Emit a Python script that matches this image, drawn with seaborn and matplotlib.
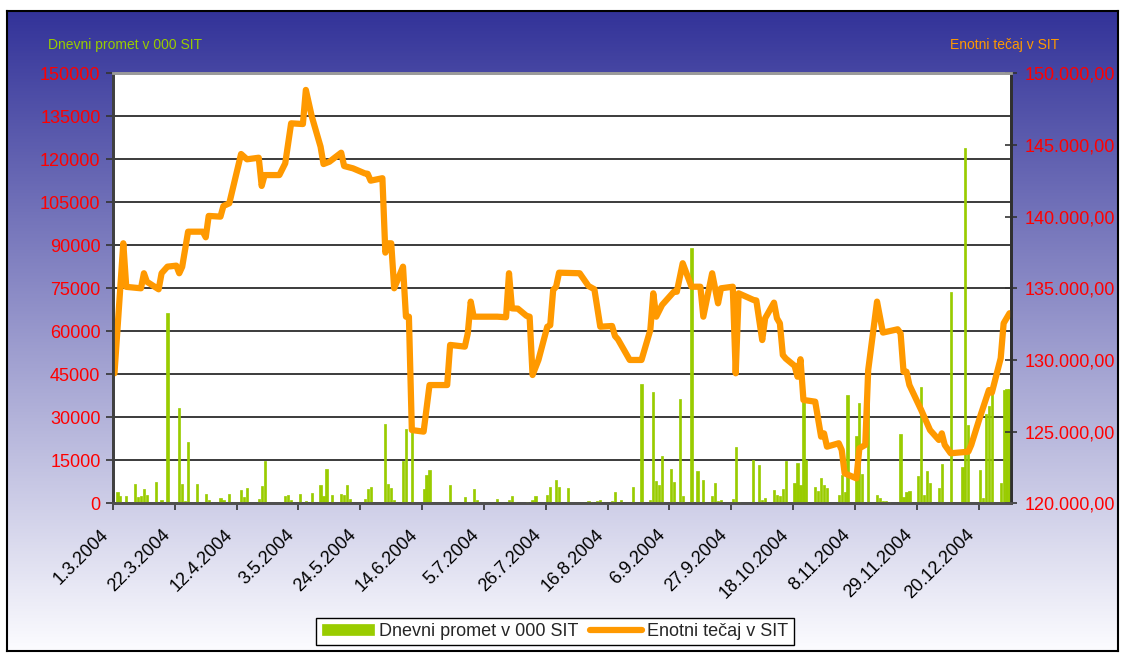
import matplotlib
matplotlib.use("Agg")
import matplotlib.pyplot as plt
import matplotlib.ticker as mticker
import matplotlib.transforms as mtransforms
import numpy as np
import pandas as pd
import seaborn as sns

# daily turnover (000 SIT)
bar_dates = [
    "2004-03-02", "2004-03-03", "2004-03-05", "2004-03-08", "2004-03-09", "2004-03-10",
    "2004-03-11", "2004-03-12", "2004-03-15", "2004-03-17", "2004-03-19", "2004-03-23",
    "2004-03-24", "2004-03-25", "2004-03-26", "2004-03-29", "2004-04-01", "2004-04-02",
    "2004-04-06", "2004-04-07", "2004-04-09", "2004-04-13", "2004-04-14", "2004-04-15",
    "2004-04-19", "2004-04-20", "2004-04-21", "2004-04-28", "2004-04-29", "2004-04-30",
    "2004-05-03", "2004-05-05", "2004-05-07", "2004-05-10", "2004-05-11", "2004-05-12",
    "2004-05-14", "2004-05-17", "2004-05-18", "2004-05-19", "2004-05-20", "2004-05-25",
    "2004-05-26", "2004-05-27", "2004-06-01", "2004-06-02", "2004-06-03", "2004-06-04",
    "2004-06-07", "2004-06-08", "2004-06-10", "2004-06-14", "2004-06-15", "2004-06-16",
    "2004-06-23", "2004-06-28", "2004-06-29", "2004-06-30", "2004-07-01", "2004-07-02",
    "2004-07-09", "2004-07-13", "2004-07-14", "2004-07-15", "2004-07-19", "2004-07-21",
    "2004-07-22", "2004-07-26", "2004-07-27", "2004-07-29", "2004-07-30", "2004-08-02",
    "2004-08-03", "2004-08-09", "2004-08-10", "2004-08-12", "2004-08-13", "2004-08-17",
    "2004-08-18", "2004-08-20", "2004-08-24", "2004-08-27", "2004-08-30", "2004-08-31",
    "2004-09-01", "2004-09-02", "2004-09-03", "2004-09-06", "2004-09-07", "2004-09-09",
    "2004-09-10", "2004-09-13", "2004-09-15", "2004-09-17", "2004-09-20", "2004-09-21",
    "2004-09-22", "2004-09-23", "2004-09-27", "2004-09-28", "2004-09-29", "2004-10-04",
    "2004-10-06", "2004-10-07", "2004-10-08", "2004-10-11", "2004-10-12", "2004-10-13",
    "2004-10-14", "2004-10-15", "2004-10-18", "2004-10-19", "2004-10-20", "2004-10-21",
    "2004-10-22", "2004-10-25", "2004-10-26", "2004-10-27", "2004-10-28", "2004-10-29",
    "2004-11-02", "2004-11-03", "2004-11-04", "2004-11-05", "2004-11-08", "2004-11-09",
    "2004-11-10", "2004-11-12", "2004-11-15", "2004-11-16", "2004-11-17", "2004-11-18",
    "2004-11-19", "2004-11-23", "2004-11-24", "2004-11-25", "2004-11-26", "2004-11-29",
    "2004-11-30", "2004-12-01", "2004-12-02", "2004-12-03", "2004-12-06", "2004-12-07",
    "2004-12-10", "2004-12-14", "2004-12-15", "2004-12-16", "2004-12-20", "2004-12-21",
    "2004-12-22", "2004-12-23", "2004-12-24", "2004-12-27", "2004-12-28", "2004-12-29",
    "2004-12-30",
]
bar_values = [
    3950, 2560, 2560, 6750, 2210, 2560,
    5000, 2900, 7440, 1160, 66270, 33260,
    6750, 810, 21400, 6750, 3260, 1160,
    1860, 1160, 3260, 4650, 2210, 5350,
    1510, 6050, 14770, 2560, 2900, 1160,
    3260, 810, 3600, 6400, 2560, 11980,
    2900, 3260, 2900, 6400, 1510, 1510,
    5000, 5700, 27680, 6750, 5350, 1160,
    14770, 25930, 25500, 5000, 9890, 11630,
    6400, 2210, 470, 470, 5000, 1160,
    1510, 1160, 2560, 470, 470, 1160,
    2560, 2900, 5700, 8140, 5700, 5350,
    230, 810, 470, 810, 1160, 810,
    3950, 1160, 5700, 41610, 1160, 38930,
    7790, 6400, 16510, 11980, 7440, 36400,
    2560, 88940, 11280, 8140, 2560, 7090,
    810, 1160, 1510, 19650, 470, 15120,
    13370, 1160, 1860, 4650, 2900, 2560,
    5000, 14770, 7090, 14070, 6400, 36030,
    15120, 5700, 4300, 8840, 6400, 5350,
    2900, 9890, 3950, 37770, 23490, 35000,
    10230, 36000, 2900, 1860, 810, 810,
    470, 24190, 2210, 3950, 4300, 9540,
    40460, 2900, 11280, 7090, 5350, 13720,
    73810, 12680, 124030, 27330, 11630, 1860,
    31000, 34000, 38370, 7090, 39520, 39870,
    39870,
]

# unit price (SIT)
line_dates = [
    "2004-03-01", "2004-03-04", "2004-03-05", "2004-03-10", "2004-03-11", "2004-03-12",
    "2004-03-16", "2004-03-17", "2004-03-19", "2004-03-22", "2004-03-23", "2004-03-24",
    "2004-03-26", "2004-03-31", "2004-04-01", "2004-04-02", "2004-04-06", "2004-04-07",
    "2004-04-09", "2004-04-13", "2004-04-15", "2004-04-19", "2004-04-20", "2004-04-21",
    "2004-04-26", "2004-04-28", "2004-04-30", "2004-05-04", "2004-05-05", "2004-05-07",
    "2004-05-10", "2004-05-11", "2004-05-13", "2004-05-17", "2004-05-18", "2004-05-21",
    "2004-05-25", "2004-05-26", "2004-05-27", "2004-05-31", "2004-06-01", "2004-06-02",
    "2004-06-03", "2004-06-04", "2004-06-07", "2004-06-08", "2004-06-09", "2004-06-10",
    "2004-06-14", "2004-06-16", "2004-06-22", "2004-06-23", "2004-06-28", "2004-06-29",
    "2004-06-30", "2004-07-01", "2004-07-09", "2004-07-12", "2004-07-13", "2004-07-14",
    "2004-07-16", "2004-07-19", "2004-07-20", "2004-07-21", "2004-07-23", "2004-07-26",
    "2004-07-27", "2004-07-28", "2004-07-29", "2004-07-30", "2004-08-06", "2004-08-09",
    "2004-08-11", "2004-08-13", "2004-08-17", "2004-08-18", "2004-08-19", "2004-08-23",
    "2004-08-27", "2004-08-30", "2004-08-31", "2004-09-01", "2004-09-03", "2004-09-07",
    "2004-09-08", "2004-09-10", "2004-09-13", "2004-09-16", "2004-09-17", "2004-09-20",
    "2004-09-22", "2004-09-23", "2004-09-27", "2004-09-28", "2004-09-29", "2004-10-04",
    "2004-10-05", "2004-10-07", "2004-10-08", "2004-10-11", "2004-10-12", "2004-10-13",
    "2004-10-14", "2004-10-15", "2004-10-18", "2004-10-19", "2004-10-20", "2004-10-21",
    "2004-10-25", "2004-10-27", "2004-10-28", "2004-10-29", "2004-11-02", "2004-11-03",
    "2004-11-04", "2004-11-08", "2004-11-09", "2004-11-11", "2004-11-12", "2004-11-15",
    "2004-11-17", "2004-11-22", "2004-11-23", "2004-11-24", "2004-11-25", "2004-11-26",
    "2004-11-30", "2004-12-03", "2004-12-06", "2004-12-07", "2004-12-08", "2004-12-10",
    "2004-12-16", "2004-12-17", "2004-12-20", "2004-12-23", "2004-12-24", "2004-12-27",
    "2004-12-28", "2004-12-30",
]
line_values = [
    129070, 138140, 135100, 135000, 136050, 135460,
    134930, 136050, 136510, 136580, 136050, 136500,
    138950, 138950, 138560, 140050, 140000, 140740,
    140930, 144370, 144000, 144110, 142140, 142900,
    142900, 143720, 146510, 146460, 148840, 147000,
    144880, 143670, 143830, 144460, 143530, 143370,
    143020, 142990, 142510, 142680, 137490, 138140,
    138140, 135000, 136510, 133020, 133020, 125110,
    125000, 128250, 128250, 131050, 130930, 131860,
    134070, 133020, 133020, 132980, 136050, 133600,
    133580, 133070, 133020, 128950, 130000, 132320,
    132420, 134880, 135110, 136090, 136050, 135160,
    134930, 132320, 132370, 131670, 131440, 130000,
    130000, 132090, 134650, 133020, 133840, 134760,
    134760, 136750, 135110, 135110, 133020, 136050,
    133950, 135000, 135110, 129070, 134650, 134190,
    134150, 131390, 132910, 134000, 132910, 132560,
    130350, 130100, 129590, 128830, 130050, 127210,
    127090, 124650, 124880, 123950, 124190, 123720,
    122090, 121740, 123840, 124070, 129300, 134070,
    131910, 132140, 131860, 129180, 129180, 128250,
    126510, 125110, 124420, 124880, 124070, 123490,
    123600, 124070, 126040, 127900, 127720, 130120,
    132560, 133260,
]

bar_label = "Dnevni promet v 000 SIT"
line_label = "Enotni tečaj v SIT"
GREEN = "#99cc00"
ORANGE = "#ff9900"

sns.set_style("white")
plt.rcParams["font.family"] = ["Liberation Sans", "DejaVu Sans"]

fig = plt.figure(figsize=(11.25, 6.55), dpi=100)

# gradient background with black frame
bg = fig.add_axes([7 / 1125, 4 / 655, 1111 / 1125, 640 / 655], zorder=-10)
grad = np.linspace(0, 1, 256)[:, None, None]
top_c = np.array([51, 51, 153]) / 255
bot_c = np.array([252, 252, 255]) / 255
bg.imshow(top_c + (bot_c - top_c) * grad, aspect="auto", extent=[0, 1, 0, 1], origin="upper")
bg.set_xticks([])
bg.set_yticks([])
for s in bg.spines.values():
    s.set_color("black")
    s.set_linewidth(1.5)

ax = fig.add_axes([113 / 1125, 151.7 / 655, 898 / 1125, 430 / 655])
ax.set_facecolor("white")
ax.bar(pd.to_datetime(bar_dates), bar_values, width=0.75, color=GREEN, edgecolor=GREEN,
       linewidth=0.5, label=bar_label, zorder=3)
ax.set_ylim(0, 150000)
ax.set_yticks(range(0, 150001, 15000))
ax.yaxis.grid(True, color="#1a1a1a", linewidth=1.2, zorder=1)
ax.set_axisbelow(True)

ax2 = ax.twinx()
sns.lineplot(x=pd.to_datetime(line_dates), y=line_values, ax=ax2, color=ORANGE,
             linewidth=4.5, label=line_label, legend=False)
ax2.lines[0].set_solid_joinstyle("round")
ax2.lines[0].set_solid_capstyle("round")
ax2.set_ylim(120000, 150000)
ax2.set_yticks(range(120000, 150001, 5000))
ax2.yaxis.set_major_formatter(
    mticker.FuncFormatter(lambda v, p: f"{v:,.2f}".replace(",", " ").replace(".", ",").replace(" ", "."))
)
ax2.set_ylabel("")

tick_days = pd.date_range("2004-03-01", periods=15, freq="21D")
ax.set_xticks(tick_days - pd.Timedelta(hours=12))
ax.set_xticklabels([f"{d.day}.{d.month}.{d.year}" for d in tick_days])
ax.set_xlim(pd.Timestamp("2004-02-29 12:00"), pd.Timestamp("2004-12-30 12:00"))

ax.tick_params(axis="y", colors="#333333", labelcolor="red", labelsize=13, length=5, width=1.2, pad=4, left=True)
ax2.tick_params(axis="y", colors="#333333", labelcolor="red", labelsize=13, length=8, width=1.2,
                direction="inout", pad=6, right=True)
ax.tick_params(axis="x", colors="#333333", labelcolor="black", labelsize=13, length=5, width=1.2, bottom=True)
shift = mtransforms.ScaledTranslation(-13 / 100, -11 / 100, fig.dpi_scale_trans)
for lbl in ax.get_xticklabels():
    lbl.set_rotation(45)
    lbl.set_ha("right")
    lbl.set_rotation_mode("anchor")
    lbl.set_transform(lbl.get_transform() + shift)

for a in (ax, ax2):
    a.spines["top"].set_color("#9a9a9a")
    a.spines["top"].set_linewidth(2)
    a.spines["left"].set_color("#404040")
    a.spines["left"].set_linewidth(2)
    a.spines["bottom"].set_color("#505050")
    a.spines["bottom"].set_linewidth(2)
    a.spines["right"].set_color("#303030")
    a.spines["right"].set_linewidth(2)

fig.text(48 / 1125, 1 - 45 / 655, bar_label, color=GREEN, fontsize=10, va="center", ha="left")
fig.text(950 / 1125, 1 - 45 / 655, line_label, color=ORANGE, fontsize=10, va="center", ha="left")

h1, l1 = ax.get_legend_handles_labels()
h2, l2 = ax2.get_legend_handles_labels()
fig.legend(h1 + h2, l1 + l2, loc="center", bbox_to_anchor=(555 / 1125, 23.5 / 655), ncol=2,
           frameon=True, fancybox=False, edgecolor="black", framealpha=1, fontsize=13,
           handlelength=2.9, handleheight=0.6, handletextpad=0.3, columnspacing=0.6, borderpad=0.3)

fig.savefig("out.png", dpi=100)
